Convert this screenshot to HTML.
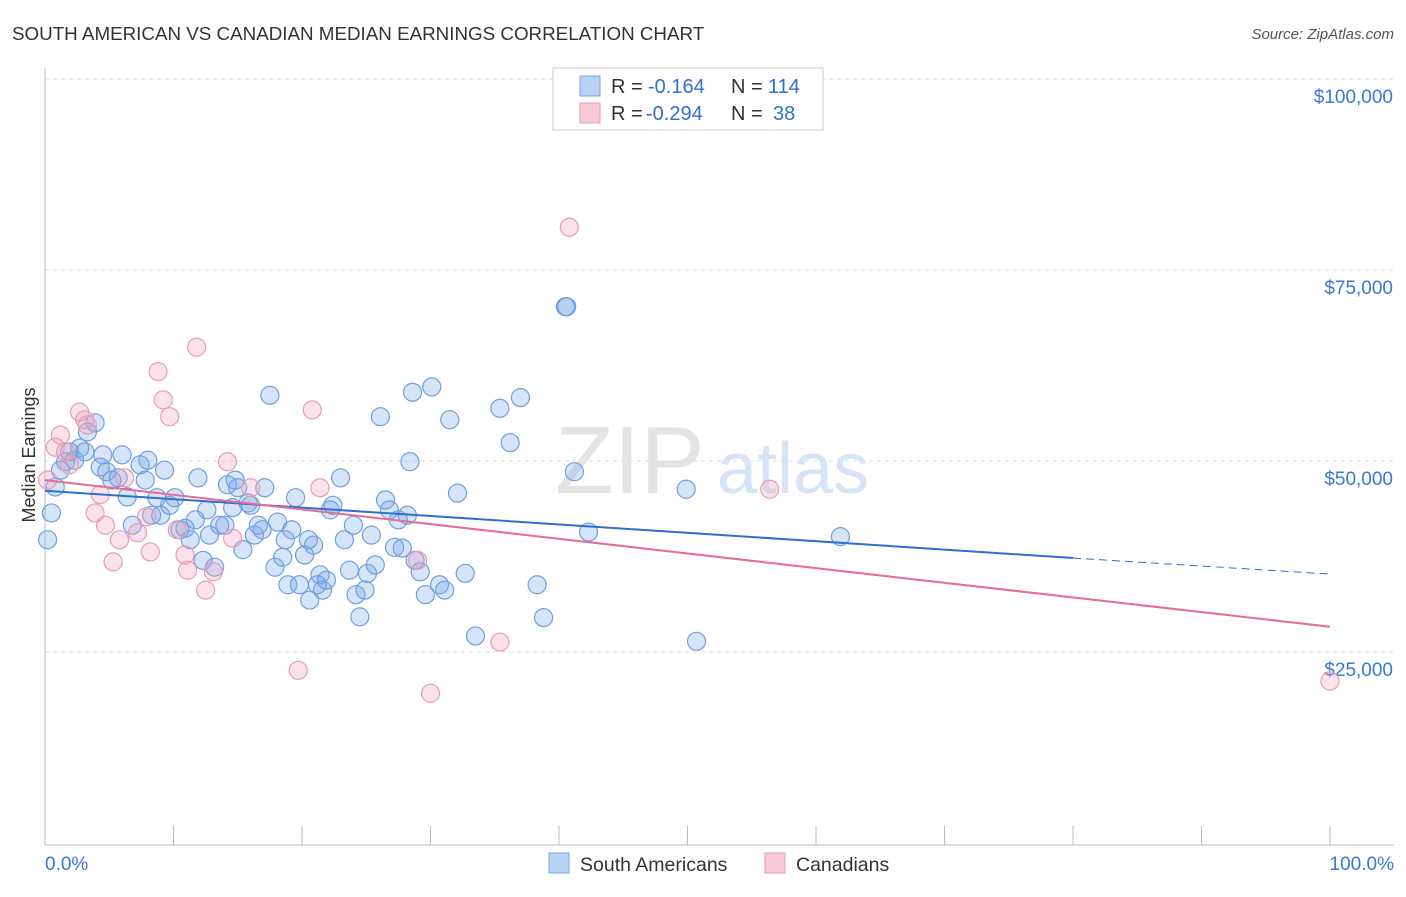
<!DOCTYPE html>
<html><head><meta charset="utf-8"><style>
body{margin:0;background:#fff;font-family:"Liberation Sans",sans-serif}
svg text{font-family:"Liberation Sans",sans-serif}
</style></head><body>
<svg width="1406" height="892" xmlns="http://www.w3.org/2000/svg">
<text x="12" y="40" font-size="18.8" fill="#333">SOUTH AMERICAN VS CANADIAN MEDIAN EARNINGS CORRELATION CHART</text>
<text x="1394" y="39" font-size="15" fill="#555" text-anchor="end" font-style="italic">Source: ZipAtlas.com</text>
<g id="grid"></g>
<g id="axes"></g>
<text x="555" y="493" font-size="96" fill="#e4e4e4" font-family="Liberation Serif">ZIP</text>
<text x="717" y="493" font-size="72" fill="#d6e4f5">atlas</text>
<g id="pts"></g>
<g id="trend"></g>
<text x="35" y="455" font-size="18" fill="#333" text-anchor="middle" transform="rotate(-90 35 455)">Median Earnings</text>
<g>
<rect x="553" y="68" width="270" height="62" fill="#fff" stroke="#ccc"/>
<rect x="580" y="76" width="20" height="20" fill="#b8d2f3" stroke="#7aa5e0"/>
<rect x="580" y="103" width="20" height="20" fill="#f8c9d8" stroke="#e99bb5"/>
<text x="611" y="93" font-size="20" fill="#333">R =</text>
<text x="648" y="93" font-size="20" fill="#2f6fd0">-0.164</text>
<text x="731" y="93" font-size="20" fill="#333">N =</text>
<text x="768" y="93" font-size="20" fill="#2f6fd0">114</text>
<text x="611" y="120" font-size="20" fill="#333">R =</text>
<text x="646" y="120" font-size="20" fill="#2f6fd0">-0.294</text>
<text x="731" y="120" font-size="20" fill="#333">N =</text>
<text x="773" y="120" font-size="20" fill="#2f6fd0">38</text>
</g>
<g>
<rect x="549" y="853" width="20" height="20" fill="#b8d2f3" stroke="#7aa5e0"/>
<text x="580" y="871" font-size="19.5" fill="#333">South Americans</text>
<rect x="765" y="853" width="20" height="20" fill="#f8c9d8" stroke="#e99bb5"/>
<text x="796" y="871" font-size="19.5" fill="#333">Canadians</text>
</g>
</svg>
<script>
const yTicks=[25000,50000,75000,100000];
const yTickLabels=["$25,000","$50,000","$75,000","$100,000"];
const xTickLabels=["0.0%","100.0%"];
const blueX=[0.2,0.5,0.8,1.2,1.6,1.9,2.3,2.7,3.1,3.3,3.9,4.3,4.5,4.8,5.2,5.7,6.0,6.4,6.8,7.4,7.8,8.0,8.3,8.7,9.0,9.3,9.7,10.1,10.5,10.9,11.3,11.7,11.9,12.3,12.6,12.8,13.2,13.6,14.0,14.2,14.6,14.8,15.0,15.4,15.8,16.0,16.3,16.6,16.9,17.1,17.5,17.9,18.1,18.5,18.7,18.9,19.2,19.5,19.8,20.2,20.5,20.6,20.9,21.2,21.4,21.6,21.9,22.2,22.4,23.0,23.3,23.7,24.0,24.2,24.5,24.9,25.1,25.4,25.7,26.1,26.5,26.8,27.2,27.5,27.8,28.2,28.4,28.6,28.8,29.2,29.6,30.1,30.7,31.1,31.5,32.1,32.7,33.5,35.4,36.2,37.0,38.3,38.8,40.5,40.6,41.2,42.3,49.9,50.7,61.9];
const blueY=[39.7,43.2,46.6,48.8,49.9,51.2,50.1,51.7,51.2,53.8,55.0,49.2,50.8,48.6,47.5,47.8,50.8,45.3,41.6,49.5,47.5,50.1,42.9,45.2,42.9,48.8,44.2,45.2,41.0,41.2,39.7,42.3,47.8,37.0,43.6,40.3,36.1,41.6,41.6,46.9,43.9,47.5,46.5,38.4,44.5,44.2,40.3,41.6,41.0,46.5,58.6,36.1,42.0,37.4,39.7,33.8,41.0,45.2,33.8,37.7,39.7,31.8,39.0,33.8,35.1,33.1,34.4,43.6,44.2,47.8,39.7,35.7,41.6,32.5,29.6,33.1,35.3,40.3,36.4,55.8,44.9,43.6,38.7,42.3,38.6,42.9,49.9,59.0,37.0,35.5,32.5,59.7,33.8,33.1,55.4,45.8,35.3,27.1,56.9,52.4,58.3,33.8,29.5,70.2,70.2,48.6,40.7,46.3,26.4,40.1];
const pinkX=[0.2,0.8,1.2,1.6,1.9,2.7,3.3,3.1,3.9,4.3,4.7,5.3,5.8,6.2,7.2,7.9,8.2,8.8,9.2,9.7,10.3,10.9,11.1,11.8,12.5,13.1,14.2,14.6,16.0,19.7,20.8,21.4,29.0,30.0,35.4,40.8,56.4,100];
const pinkY=[47.5,51.8,53.4,51.2,49.5,56.4,54.7,55.4,43.2,45.6,41.6,36.8,39.7,47.8,40.6,42.7,38.1,61.7,58.0,55.8,41.0,37.7,35.7,64.9,33.1,35.5,49.9,39.9,46.5,22.6,56.7,46.5,37.0,19.6,26.3,80.6,46.3,21.2];
const blueTrend=[[0,46100],[80,37300],[100,35200]];
const pinkTrend=[[0,47500],[100,28300]];
const X=p=>45+p*12.85, Y=v=>843-v/25000*191;
const NS="http://www.w3.org/2000/svg";
function mk(t,a,parent){const e=document.createElementNS(NS,t);for(const k in a)e.setAttribute(k,a[k]);document.getElementById(parent).appendChild(e);return e;}
yTicks.forEach((v,i)=>{
 const g=mk('line',{x1:45,x2:1394,y1:Y(v),y2:Y(v),stroke:'#ddd','stroke-dasharray':'4 4'},'grid');
 
 
 const t=mk('text',{x:1393,y:Y(v)+24,'font-size':19,fill:'#3a78d6','text-anchor':'end'},'axes');
 t.textContent=yTickLabels[i];
 
 
});
const ax=mk('line',{x1:45,x2:1394,y1:845,y2:845,stroke:'#bbb'},'axes');


const ay=mk('line',{x1:45,x2:45,y1:68,y2:845,stroke:'#bbb'},'axes');


for(let i=0;i<=10;i++){const t=mk('line',{x1:X(i*10),x2:X(i*10),y1:826,y2:845,stroke:'#bbb'},'axes');
 
 }
[[0,'start',45],[1,'end',1394]].forEach(([i,a,x])=>{const t=mk('text',{x:x,y:870,'font-size':19,fill:'#3a78d6','text-anchor':a},'axes');t.textContent=xTickLabels[i];
 
 });
blueX.forEach((x,i)=>{const c=mk('circle',{cx:X(x),cy:Y(blueY[i]*1000),r:9,fill:'rgba(120,165,230,0.3)',stroke:'#6f9fe0','stroke-width':1.2},'pts');
 
 });
pinkX.forEach((x,i)=>{const c=mk('circle',{cx:X(x),cy:Y(pinkY[i]*1000),r:9,fill:'rgba(240,160,190,0.3)',stroke:'#e99bb5','stroke-width':1.2},'pts');
 
 });
const b1=mk('line',{x1:X(blueTrend[0][0]),y1:Y(blueTrend[0][1]),x2:X(blueTrend[1][0]),y2:Y(blueTrend[1][1]),stroke:'#2f6fd0','stroke-width':2},'trend');


const b2=mk('line',{x1:X(blueTrend[1][0]),y1:Y(blueTrend[1][1]),x2:X(blueTrend[2][0]),y2:Y(blueTrend[2][1]),stroke:'#2f6fd0','stroke-width':1,'stroke-dasharray':'8 5'},'trend');


const p1=mk('line',{x1:X(pinkTrend[0][0]),y1:Y(pinkTrend[0][1]),x2:X(pinkTrend[1][0]),y2:Y(pinkTrend[1][1]),stroke:'#e86a98','stroke-width':2},'trend');


</script>
</body></html>
